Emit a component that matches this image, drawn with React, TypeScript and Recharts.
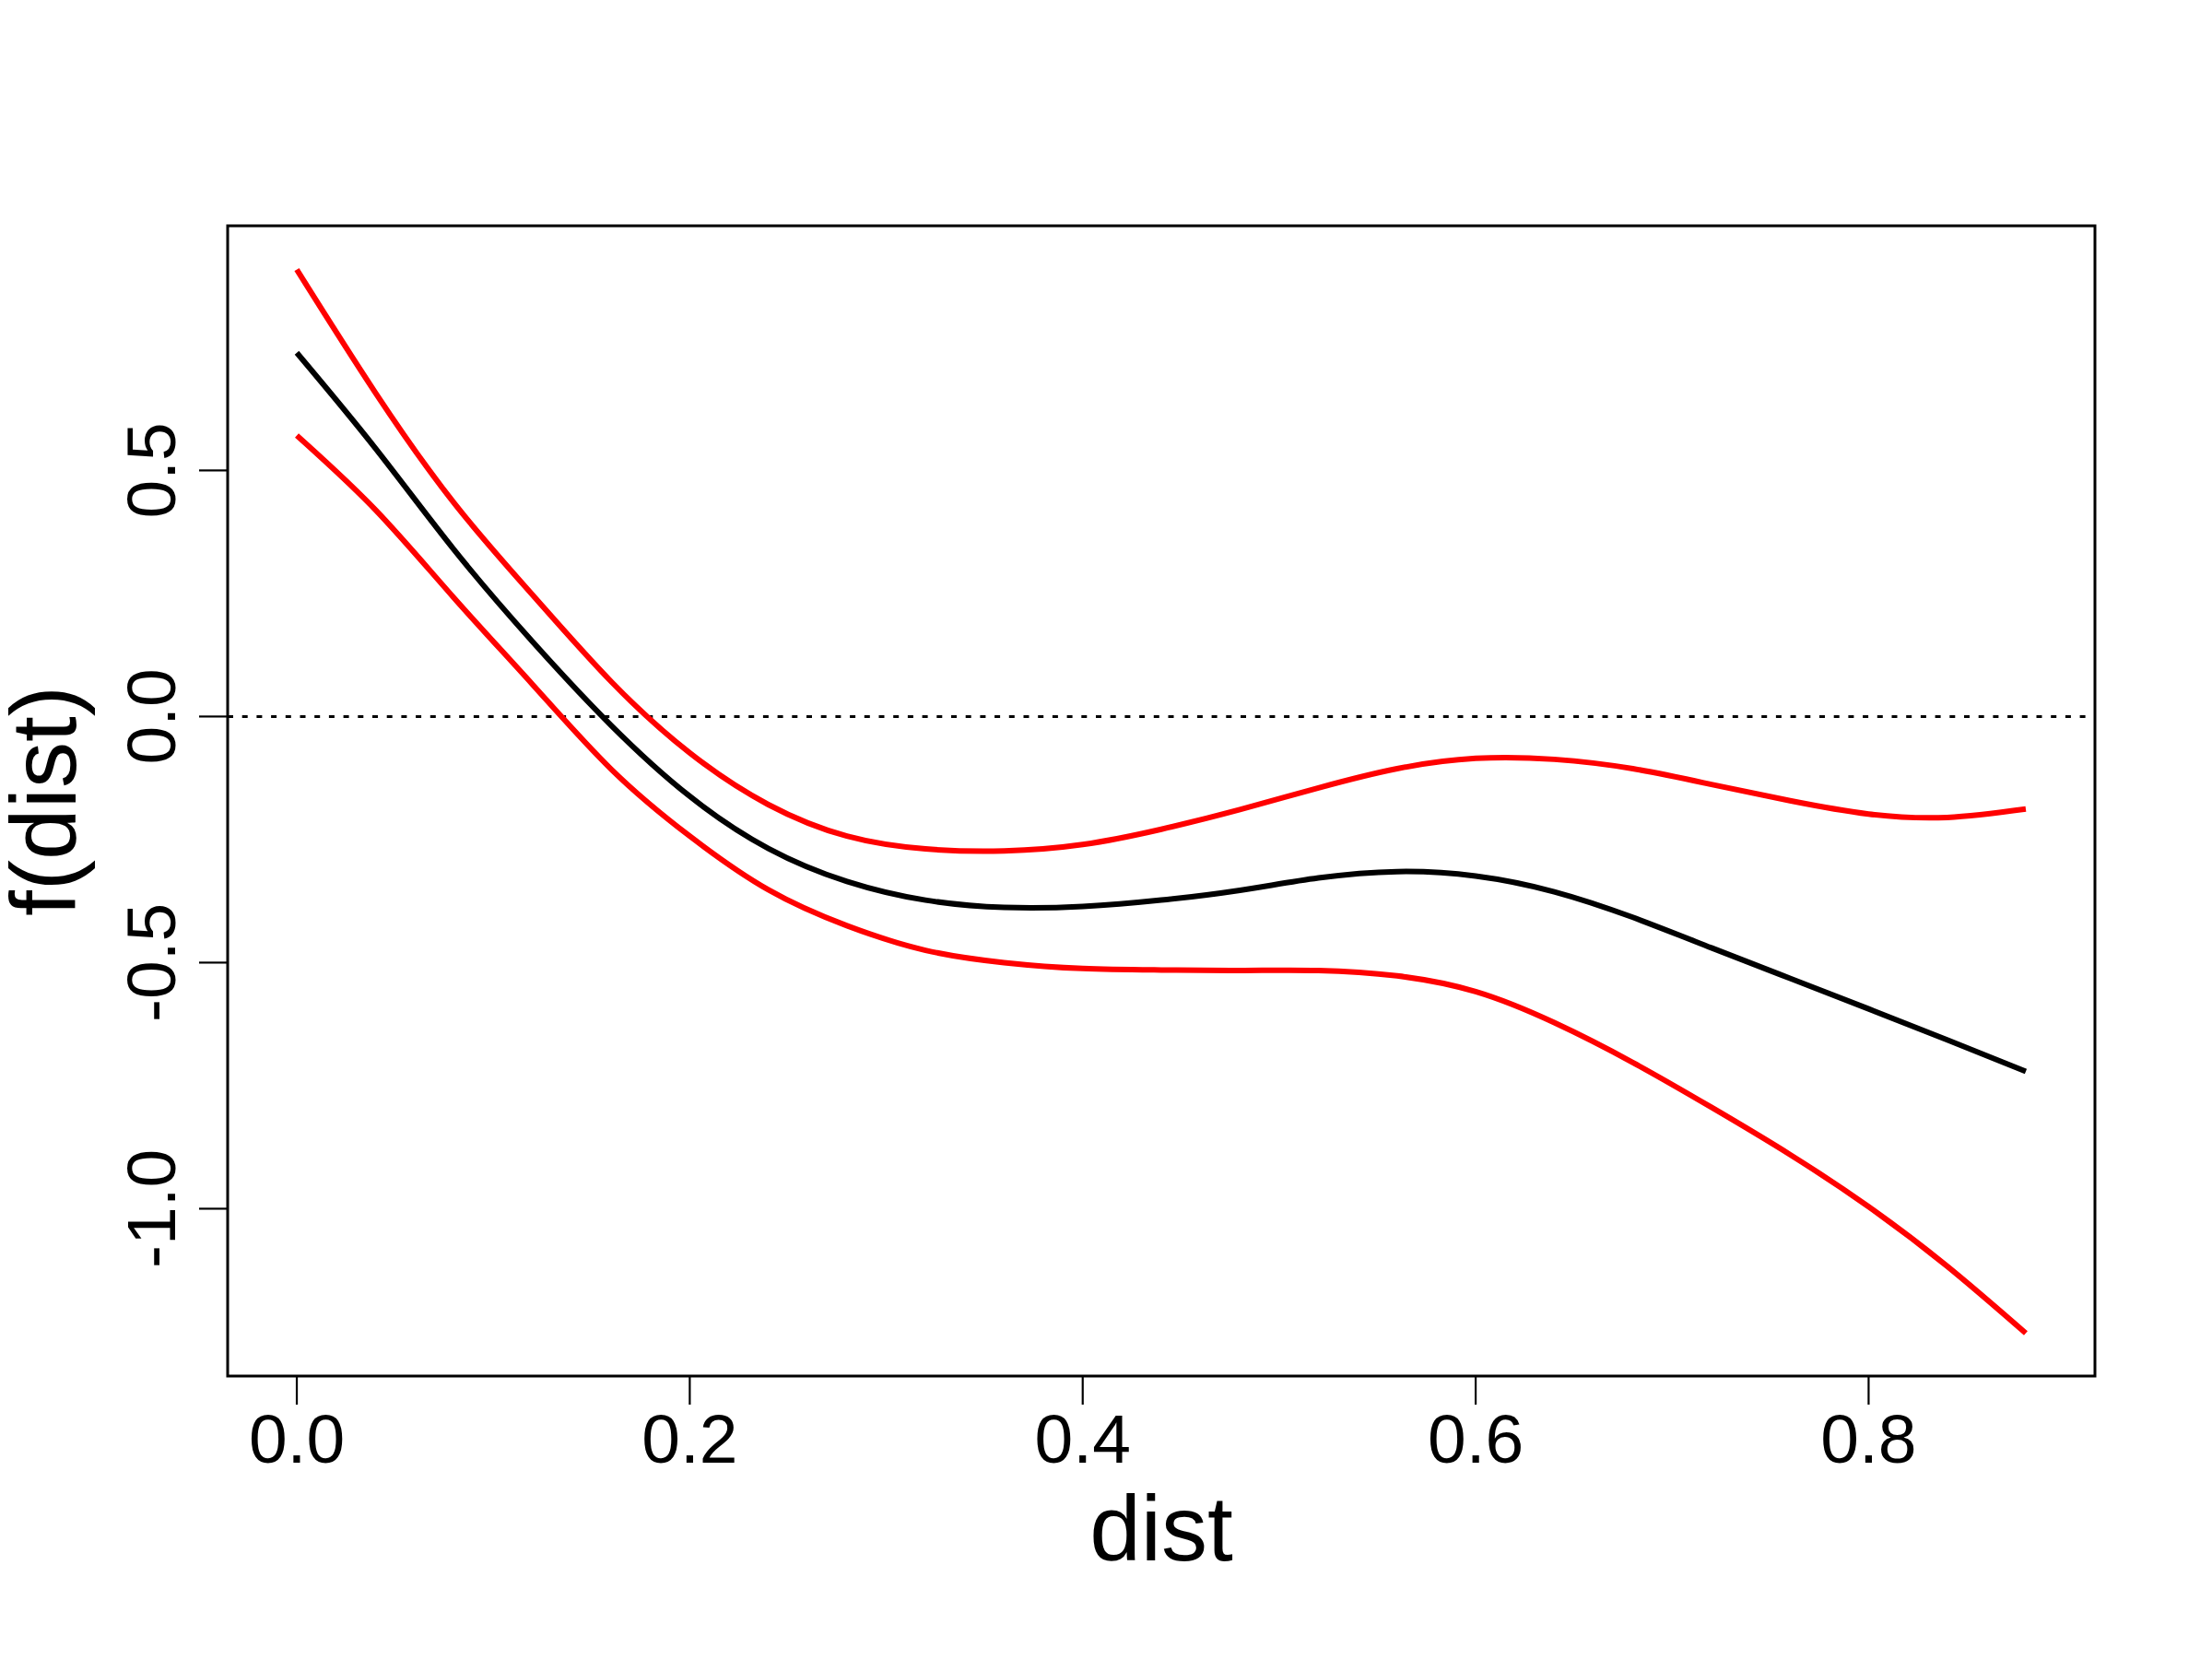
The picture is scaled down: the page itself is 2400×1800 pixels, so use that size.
import React from "react";
import { LineChart, Line, XAxis, YAxis, ReferenceLine, ReferenceArea, Label } from "recharts";

const FONT = "'Liberation Sans', Arial, sans-serif";

// smooth term f(dist) with its confidence band
const dist = [0, 0.04, 0.08, 0.12, 0.16, 0.2, 0.24, 0.28, 0.32, 0.36, 0.4, 0.44, 0.48, 0.52, 0.56, 0.6, 0.64, 0.68, 0.72, 0.76, 0.8, 0.84, 0.88];
const fit = [0.739, 0.545, 0.339, 0.152, -0.018, -0.162, -0.268, -0.335, -0.373, -0.388, -0.386, -0.373, -0.353, -0.328, -0.315, -0.324, -0.356, -0.408, -0.47, -0.532, -0.594, -0.657, -0.721];
const upper = [0.908, 0.658, 0.434, 0.247, 0.071, -0.074, -0.179, -0.243, -0.269, -0.273, -0.26, -0.229, -0.189, -0.145, -0.106, -0.085, -0.087, -0.106, -0.138, -0.171, -0.198, -0.205, -0.188];
const lower = [0.571, 0.42, 0.241, 0.065, -0.107, -0.243, -0.352, -0.425, -0.475, -0.5, -0.512, -0.515, -0.516, -0.516, -0.527, -0.559, -0.622, -0.703, -0.794, -0.89, -0.996, -1.117, -1.253];

const xTicks = [0, 0.2, 0.4, 0.6, 0.8];
const yTicks = [-1, -0.5, 0, 0.5];
const xDomain: [number, number] = [-0.0352, 0.9152];
const yDomain: [number, number] = [-1.34, 0.997];

const rows = dist.map((d, i) => ({ dist: d, fit: fit[i], upper: upper[i], lower: lower[i] }));

function YTick(props: any) {
  const { x, y, payload } = props;
  return (
    <text x={x} y={y} transform={`rotate(-90, ${x}, ${y})`} textAnchor="middle" fontSize={75} fontFamily={FONT} fill="#000">
      {Number(payload.value).toFixed(1)}
    </text>
  );
}

export default function App() {
  return (
    <div style={{ position: "absolute", left: 0, top: 0, width: 2400, height: 1800, background: "#fff" }}>
      <LineChart width={2400} height={1800} data={rows} margin={{ top: 245, right: 127, bottom: 0, left: 0 }}>
        <XAxis
          type="number"
          dataKey="dist"
          domain={xDomain}
          ticks={xTicks}
          interval={0}
          allowDataOverflow
          height={307}
          axisLine={false}
          tickSize={31}
          tickMargin={10}
          tickLine={{ stroke: "#000", strokeWidth: 2.2 }}
          tick={{ fontSize: 75, fill: "#000", fontFamily: FONT }}
          tickFormatter={(v: number) => v.toFixed(1)}
        >
          <Label
            content={(p: any) => {
              const vb = p.viewBox || { x: 247, y: 1493, width: 2026 };
              return (
                <text x={vb.x + vb.width / 2} y={vb.y + 200} textAnchor="middle" fontSize={100} fontFamily={FONT} fill="#000">
                  dist
                </text>
              );
            }}
          />
        </XAxis>
        <YAxis
          type="number"
          domain={yDomain}
          ticks={yTicks}
          interval={0}
          allowDataOverflow
          width={247}
          axisLine={false}
          tickSize={31}
          tickMargin={26}
          tickLine={{ stroke: "#000", strokeWidth: 2.2 }}
          tick={<YTick />}
        >
          <Label
            content={(p: any) => {
              const vb = p.viewBox || { x: 0, y: 245, height: 1248 };
              const cx = vb.x + 82;
              const cy = vb.y + vb.height / 2;
              return (
                <text x={cx} y={cy} transform={`rotate(-90, ${cx}, ${cy})`} textAnchor="middle" fontSize={100} fontFamily={FONT} fill="#000">
                  f(dist)
                </text>
              );
            }}
          />
        </YAxis>
        <ReferenceArea
          x1={xDomain[0]}
          x2={xDomain[1]}
          y1={yDomain[0]}
          y2={yDomain[1]}
          fill="none"
          stroke="#000"
          strokeWidth={3}
          ifOverflow="visible"
        />
        <ReferenceLine y={0} stroke="#000" strokeWidth={3} strokeDasharray="6 9.7" />
        <Line type="natural" dataKey="upper" stroke="#ff0000" strokeWidth={6} dot={false} activeDot={false} isAnimationActive={false} />
        <Line type="natural" dataKey="lower" stroke="#ff0000" strokeWidth={6} dot={false} activeDot={false} isAnimationActive={false} />
        <Line type="natural" dataKey="fit" stroke="#000" strokeWidth={6} dot={false} activeDot={false} isAnimationActive={false} />
      </LineChart>
    </div>
  );
}
